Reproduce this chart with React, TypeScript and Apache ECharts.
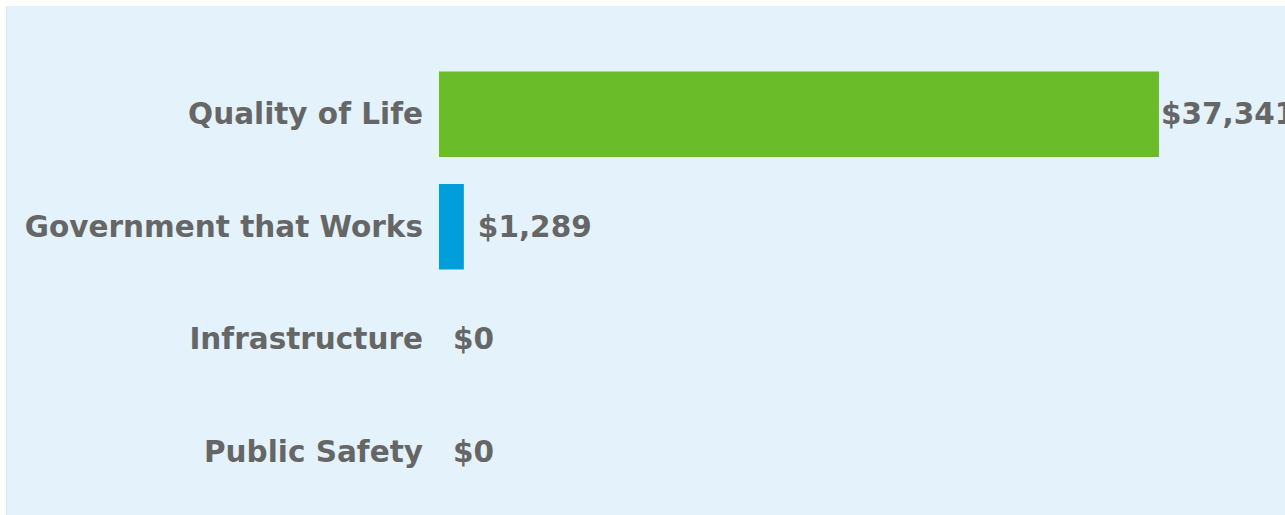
import React, { useEffect, useRef } from "react";
import * as echarts from "echarts";

const categories = ["Quality of Life", "Government that Works", "Infrastructure", "Public Safety"];
const values = [37341, 1289, 0, 0];
const colors = ["#6abd28", "#009fdb", "#009fdb", "#009fdb"];

export default function App() {
  const ref = useRef<HTMLDivElement>(null);
  useEffect(() => {
    const chart = echarts.init(ref.current!, null, { renderer: "svg" });
    const font = "'DejaVu Sans', sans-serif";
    chart.setOption({
      animation: false,
      backgroundColor: "#e4f3fb",
      grid: { left: 432, top: 52, width: 840, height: 450, containLabel: false },
      xAxis: {
        type: "value",
        min: 0,
        max: 43565,
        show: false,
      },
      yAxis: {
        type: "category",
        data: categories,
        inverse: true,
        axisLine: { show: false },
        axisTick: { show: false },
        axisLabel: {
          margin: 16,
          color: "#666666",
          fontSize: 29.5,
          fontWeight: "bold",
          fontFamily: font,
        },
      },
      series: [
        {
          type: "bar",
          barCategoryGap: "24%",
          data: values.map((v, i) => ({
            value: v,
            itemStyle: { color: colors[i] },
            label: { distance: i === 0 ? 2 : 14 },
          })),
          label: {
            show: true,
            position: "right",
            color: "#666666",
            fontSize: 29.5,
            fontWeight: "bold",
            fontFamily: font,
            formatter: (p: any) => "$" + Number(p.value).toLocaleString("en-US"),
          },
        },
      ],
    });
    return () => chart.dispose();
  }, []);
  return (
    <div
      ref={ref}
      style={{ position: "absolute", left: 6, top: 6, width: 1279, height: 509, borderLeft: "1px solid #dde8ee", boxSizing: "border-box" }}
    />
  );
}
